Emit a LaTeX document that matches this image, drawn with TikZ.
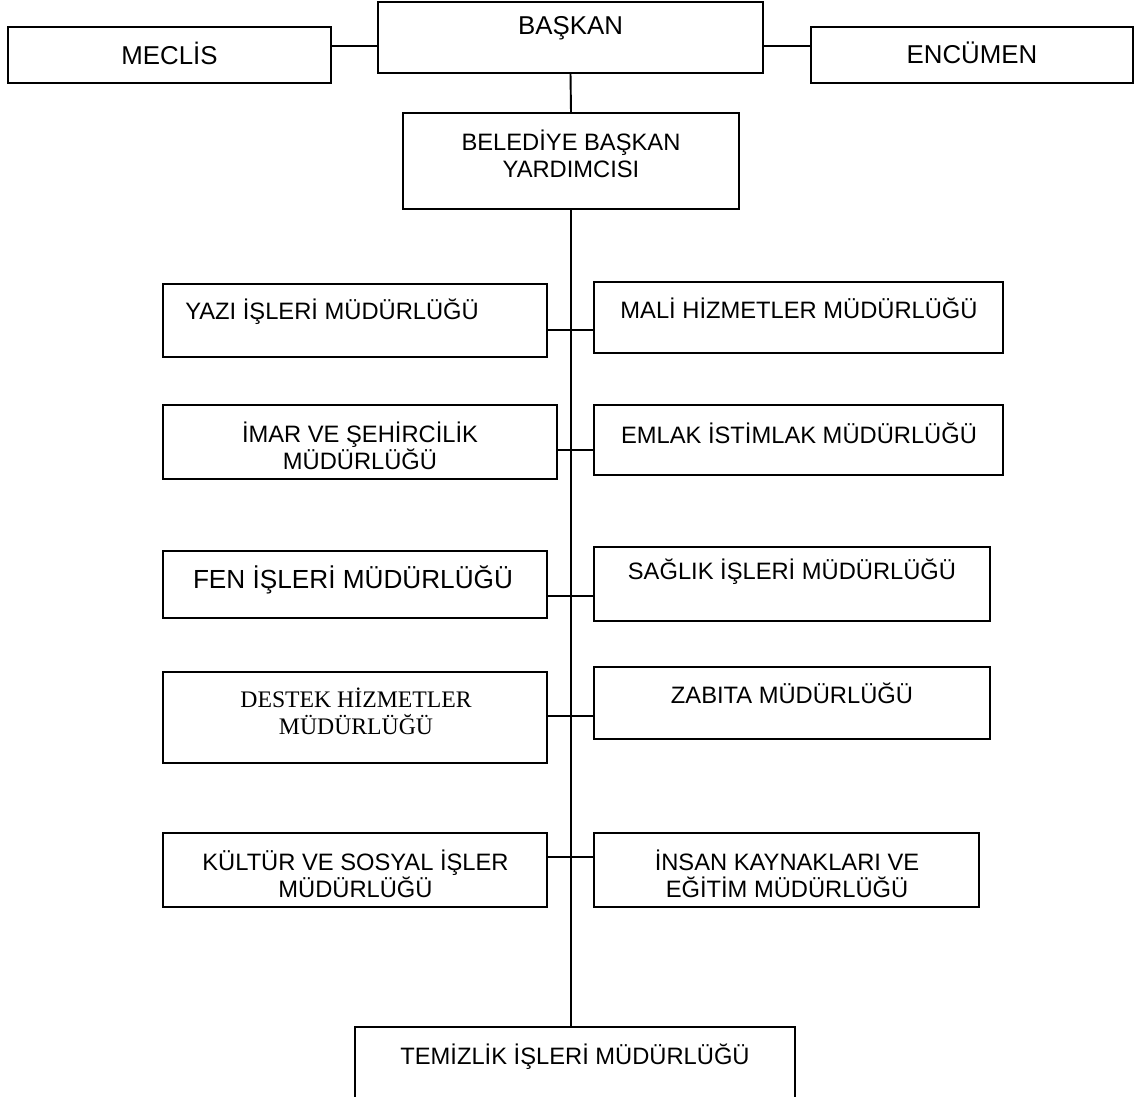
\documentclass[tikz,border=0pt]{standalone}
\usepackage{fontspec}
\setmainfont{Liberation Sans}
\newfontfamily\serifff{Liberation Serif}
\usetikzlibrary{fit}
\tikzset{
  orgbox/.style={draw=black, line width=1.1pt, inner sep=0pt, rectangle},
  lbl/.style={inner sep=0pt, align=center, font=\fontsize{13.5pt}{15.5pt}\selectfont},
  lblbig/.style={inner sep=0pt, align=center, font=\fontsize{14.7pt}{16.5pt}\selectfont},
  conn/.style={draw=black, line width=1.1pt}
}
\begin{document}
\begin{tikzpicture}[x=0.02cm,y=-0.02cm]
\useasboundingbox (0,0) rectangle (1135,1097);
% boxes
\node[orgbox, fit={(378,2) (763,73)}] (baskan) {};
\node[orgbox, fit={(8,27) (331,83)}] (meclis) {};
\node[orgbox, fit={(811,27) (1133,83)}] (encumen) {};
\node[orgbox, fit={(403,113) (739,209)}] (belediye) {};
\node[orgbox, fit={(163,284) (547,357)}] (yazi) {};
\node[orgbox, fit={(594,282) (1003,353)}] (mali) {};
\node[orgbox, fit={(163,405) (557,479)}] (imar) {};
\node[orgbox, fit={(594,405) (1003,475)}] (emlak) {};
\node[orgbox, fit={(163,551) (547,618)}] (fen) {};
\node[orgbox, fit={(594,547) (990,621)}] (saglik) {};
\node[orgbox, fit={(163,672) (547,763)}] (destek) {};
\node[orgbox, fit={(594,667) (990,739)}] (zabita) {};
\node[orgbox, fit={(163,833) (547,907)}] (kultur) {};
\node[orgbox, fit={(594,833) (979,907)}] (insan) {};
\node[orgbox, fit={(355,1027) (795,1110)}] (temizlik) {};
% texts
\node[lblbig] (tbaskan) at (570.5,28) {BAŞKAN};
\node[lblbig] (tmeclis) at (169.5,53) {MECLİS};
\node[lblbig] (tencumen) at (972,53) {ENCÜMEN};
\node[lbl] (tbelediye) at (571,154) {BELEDİYE BAŞKAN\\YARDIMCISI};
\node[lbl, anchor=west] (tyazi) at (185,312) {YAZI İŞLERİ MÜDÜRLÜĞÜ};
\node[lbl] (tmali) at (799,308) {MALİ HİZMETLER MÜDÜRLÜĞÜ};
\node[lbl] (timar) at (360,445.5) {İMAR VE ŞEHİRCİLİK\\MÜDÜRLÜĞÜ};
\node[lbl] (temlak) at (799,433) {EMLAK İSTİMLAK MÜDÜRLÜĞÜ};
\node[lbl, font=\fontsize{14.9pt}{17pt}\selectfont] (tfen) at (353,580) {FEN İŞLERİ MÜDÜRLÜĞÜ};
\node[lbl] (tsaglik) at (792,572) {SAĞLIK İŞLERİ MÜDÜRLÜĞÜ};
\node[lbl, font=\serifff\fontsize{13.5pt}{15.5pt}\selectfont] (tdestek) at (356,711.5) {DESTEK HİZMETLER\\MÜDÜRLÜĞÜ};
\node[lbl] (tzabita) at (792,693) {ZABITA MÜDÜRLÜĞÜ};
\node[lbl] (tkultur) at (355.5,873.5) {KÜLTÜR VE SOSYAL İŞLER\\MÜDÜRLÜĞÜ};
\node[lbl] (tinsan) at (787,874) {İNSAN KAYNAKLARI VE\\EĞİTİM MÜDÜRLÜĞÜ};
\node[lbl] (ttemizlik) at (575,1057) {TEMİZLİK İŞLERİ MÜDÜRLÜĞÜ};
% connectors
\draw[conn] (meclis.east |- 0,46) -- (baskan.west |- 0,46);
\draw[conn] (baskan.east |- 0,46) -- (encumen.west |- 0,46);
\draw[conn] (baskan.south) -- (belediye.north);
\draw[conn] (belediye.south) -- (belediye.south |- temizlik.north);
\draw[conn] (yazi.east |- 0,330) -- (mali.west |- 0,330);
\draw[conn] (imar.east |- 0,450) -- (emlak.west |- 0,450);
\draw[conn] (fen.east |- 0,596) -- (saglik.west |- 0,596);
\draw[conn] (destek.east |- 0,716) -- (zabita.west |- 0,716);
\draw[conn] (kultur.east |- 0,857) -- (insan.west |- 0,857);
\end{tikzpicture}
\end{document}
